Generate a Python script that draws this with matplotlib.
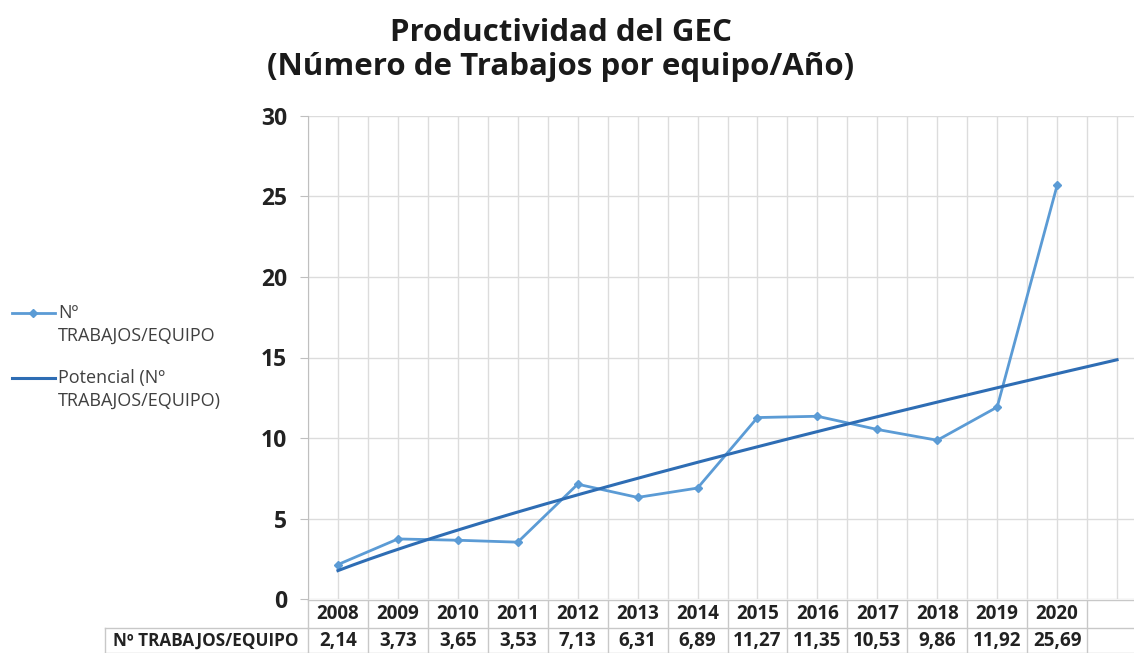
import matplotlib.pyplot as plt
import numpy as np
from matplotlib.transforms import blended_transform_factory
from matplotlib.lines import Line2D

plt.rcParams['font.family'] = ['Open Sans', 'DejaVu Sans']

years = ['2008', '2009', '2010', '2011', '2012', '2013', '2014',
         '2015', '2016', '2017', '2018', '2019', '2020']
trabajos = [2.14, 3.73, 3.65, 3.53, 7.13, 6.31, 6.89,
            11.27, 11.35, 10.53, 9.86, 11.92, 25.69]
row_label = 'Nº TRABAJOS/EQUIPO'
title = 'Productividad del GEC\n(Número de Trabajos por equipo/Año)'

W, H = 1134, 653
def fx(px): return px / W
def fy(py): return 1 - py / H

c_data = '#5B9BD5'
c_trend = '#2E6DB4'
c_grid = '#DCDCDC'
c_text = '#222222'
c_table = '#C8C8C8'

fig = plt.figure(figsize=(W / 100, H / 100), dpi=100)
# plot area runs past the right edge (cropped like the original)
ax = fig.add_axes([fx(308), fy(599), fx(1147) - fx(308), fy(116) - fy(599)])

x = np.arange(len(years))
y = np.array(trabajos)

# power trendline (Excel "Potencial"), one period forward
b, ln_a = np.polyfit(np.log(x + 1), np.log(y), 1)
xt = np.linspace(1, len(years) + 1, 200)
yt = np.exp(ln_a) * xt ** b

ax.plot(x, y, color=c_data, lw=2, marker='D', ms=4, zorder=3)
ax.plot(xt - 1, yt, color=c_trend, lw=2.2, zorder=4)

ax.set_xlim(-0.5, len(years) + 0.5)
ax.set_ylim(0, 30)
ax.set_yticks(np.arange(0, 31, 5))
ax.set_xticks(np.arange(-0.5, len(years) + 1, 0.5))
ax.set_xticklabels([])
ax.tick_params(axis='x', length=0)
ax.tick_params(axis='y', length=6, color='#BFBFBF', labelsize=16.5,
               labelcolor=c_text, pad=9)
for lab in ax.get_yticklabels():
    lab.set_fontweight('bold')
ax.grid(True, color=c_grid, lw=1)
ax.set_axisbelow(True)
for s in ['top', 'right', 'bottom']:
    ax.spines[s].set_visible(False)
ax.spines['left'].set_color('#BFBFBF')

# data table under the axis
tr = blended_transform_factory(ax.transData, fig.transFigure)
ncol = len(years) + 1
for yy in [600, 628, 653]:
    ax.add_line(Line2D([-0.5, ncol], [fy(yy)] * 2, transform=tr,
                       color=c_table, lw=1, clip_on=False))
for k in range(ncol + 1):
    ax.add_line(Line2D([k - 0.5] * 2, [fy(600), fy(653)], transform=tr,
                       color=c_table, lw=1, clip_on=False))
for i, (yr, v) in enumerate(zip(years, trabajos)):
    ax.text(i, fy(614), yr, transform=tr, ha='center', va='center',
            fontsize=13.5, fontweight='bold', color=c_text)
    ax.text(i, fy(641), f'{v:.2f}'.replace('.', ','), transform=tr,
            ha='center', va='center', fontsize=13.5, fontweight='bold',
            color=c_text)
fig.add_artist(Line2D([fx(105), fx(308)], [fy(628)] * 2, color=c_table, lw=1))
fig.add_artist(Line2D([fx(105), fx(308)], [fy(653)] * 2, color=c_table, lw=1))
fig.add_artist(Line2D([fx(105)] * 2, [fy(628), fy(653)], color=c_table, lw=1))
fig.text(fx(206), fy(641), row_label, ha='center', va='center',
         fontsize=12.3, fontweight='bold', color=c_text)

# title
fig.text(fx(561), fy(50), title, ha='center', va='center', fontsize=22.5,
         fontweight='bold', color='#1A1A1A', linespacing=1.2)

# legend on the left
c_leg = '#404040'
fig.add_artist(Line2D([fx(12), fx(55)], [fy(313)] * 2, color=c_data, lw=2))
fig.add_artist(Line2D([fx(33)], [fy(313)], color=c_data, marker='D', ms=4))
fig.text(fx(58), fy(313), 'Nº', va='center', fontsize=13, color=c_leg)
fig.text(fx(58), fy(336), 'TRABAJOS/EQUIPO', va='center', fontsize=13,
         color=c_leg)
fig.add_artist(Line2D([fx(12), fx(55)], [fy(378)] * 2, color=c_trend, lw=2.2))
fig.text(fx(58), fy(378), 'Potencial (Nº', va='center', fontsize=13,
         color=c_leg)
fig.text(fx(58), fy(401), 'TRABAJOS/EQUIPO)', va='center', fontsize=13,
         color=c_leg)

fig.savefig('out.png', dpi=100)
